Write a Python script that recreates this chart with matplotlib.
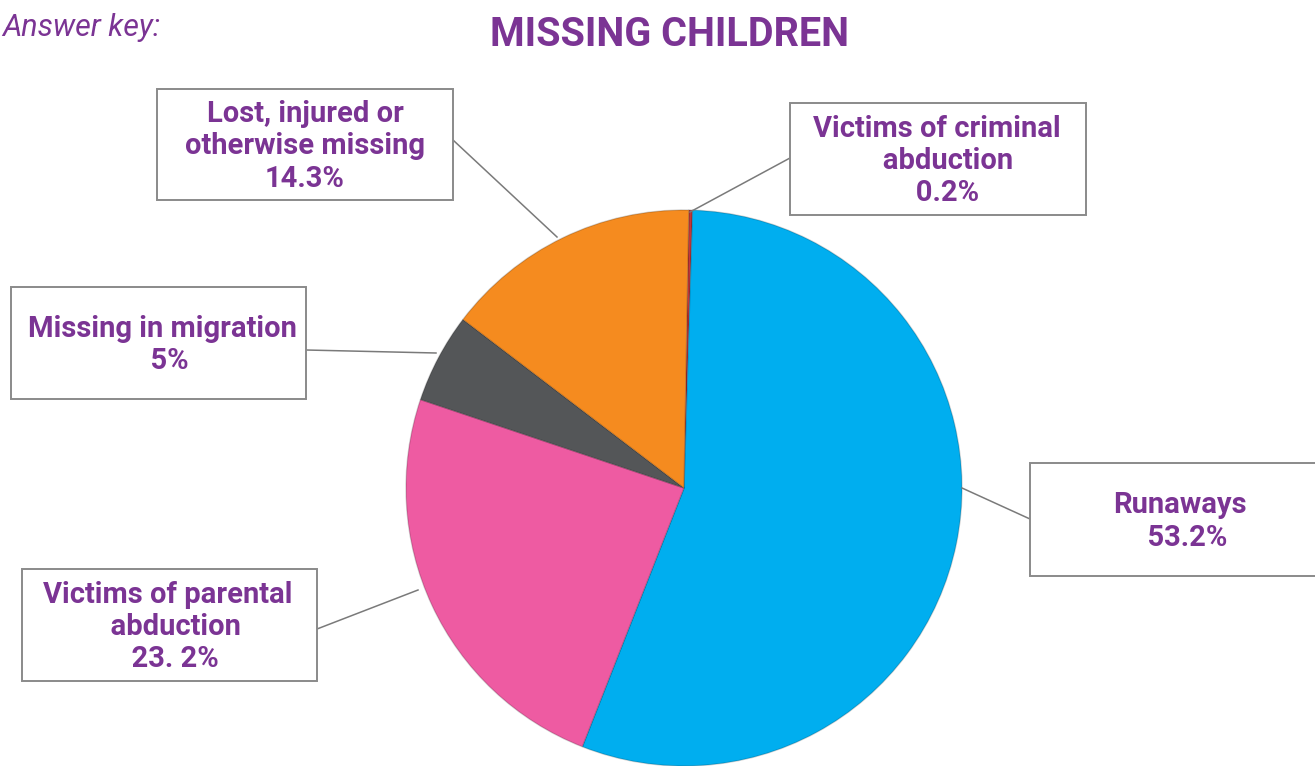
import matplotlib
matplotlib.use("Agg")
import matplotlib.pyplot as plt
import matplotlib.patches as mpatches

# ── Data ──────────────────────────────────────────────────────────────────────
categories = ["Victims of criminal abduction", "Runaways",
              "Victims of parental abduction", "Missing in migration",
              "Lost, injured or otherwise missing"]
shares = [0.2, 53.2, 23.2, 5.0, 14.3]
colors = ["#C4373A", "#00AEEF", "#EE5BA2", "#545658", "#F58B1F"]
label_texts = [
    "Victims of criminal\n   abduction\n   0.2%",
    "Runaways\n  53.2%",
    "Victims of parental\n  abduction\n  23. 2%",
    "Missing in migration\n  5%",
    "Lost, injured or\notherwise missing\n14.3%",
]

PURPLE = "#7B3494"
W, H = 1315, 766

# label boxes in pixel space (x0, y0 top, x1, y1 bottom) and connector anchors
boxes = [
    (790, 103, 1086, 215),
    (1030, 463, 1330, 576),
    (22, 569, 317, 681),
    (11, 287, 306, 399),
    (157, 89, 453, 200),
]
text_x = [937, 1180, 168, 162, 305]
line_from = [(790, 158), (1030, 519), (317, 629), (306, 350), (453, 140)]
line_to = [(690, 212), (962, 488), (418, 590), (436, 353), (557, 237)]

plt.rcParams["font.family"] = ["Roboto", "DejaVu Sans"]

fig = plt.figure(figsize=(W / 100, H / 100), dpi=100)
ax = fig.add_axes([0, 0, 1, 1])

cx, cy, r = 684, 488, 278
ax.pie(shares, colors=colors, startangle=89.0, counterclock=False,
       center=(cx, H - cy), radius=r, frame=True,
       wedgeprops=dict(linewidth=1.0, edgecolor=(0, 0, 0, 0.18)))

# connector lines
for (x0, y0), (x1, y1) in zip(line_from, line_to):
    ax.plot([x0, x1], [H - y0, H - y1], color="#7a7a7a", lw=1.1, zorder=1)

# label boxes
for (x0, y0, x1, y1), tx, txt in zip(boxes, text_x, label_texts):
    ax.add_patch(mpatches.Rectangle((x0, H - y1), x1 - x0, y1 - y0,
                                    facecolor="white", edgecolor="#8a8a8a",
                                    lw=1.4, zorder=3))
    ax.text(tx, H - (y0 + y1) / 2 - 2, txt,
            ha="center", va="center", multialignment="center",
            fontsize=21, fontweight="bold", color=PURPLE,
            linespacing=1.2, zorder=4)

ax.set_xlim(0, W)
ax.set_ylim(0, H)
ax.set_aspect("equal")
ax.axis("off")

fig.text(669 / W, 1 - 35 / H, "MISSING CHILDREN", ha="center", va="center",
         fontsize=28.5, fontweight="bold", color=PURPLE)
fig.text(2 / W, 1 - 27 / H, "Answer key:", ha="left", va="center",
         fontsize=22, fontstyle="italic", color=PURPLE)

fig.savefig("out.png", dpi=100)
